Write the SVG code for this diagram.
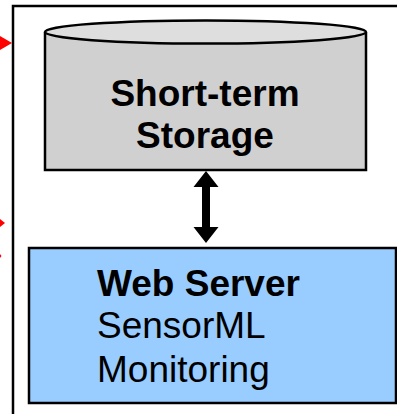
<svg xmlns="http://www.w3.org/2000/svg" width="397" height="414" viewBox="0 0 397 414">
  <style>
    .outline { stroke: #000; stroke-width: 2.5; }
    .bold { font-family: "Liberation Sans", Arial, sans-serif; font-weight: bold; font-size: 37px; fill: #000; }
    .plain { font-family: "Liberation Sans", Arial, sans-serif; font-size: 37px; fill: #000; }
    .red { fill: #ff0000; }
  </style>
  <rect width="397" height="414" fill="#fff"/>

  <!-- enclosing frame -->
  <rect id="frame" x="13" y="6" width="420" height="440" fill="none" class="outline"/>

  <!-- incoming arrowheads at the left edge -->
  <g id="incoming">
    <polygon class="red" points="0,36 12,43 0,50"/>
    <polygon class="red" points="0,219 5,223 0,227"/>
    <polygon class="red" points="0,254 1.5,256 0,258"/>
  </g>

  <!-- storage cylinder -->
  <g id="storage">
    <path d="M45,32 L45,170 L366,170 L366,32" fill="#d0d0d0" class="outline"/>
    <ellipse cx="205.5" cy="32" rx="160.5" ry="11.5" fill="#dedede" class="outline"/>
    <text class="bold" x="205" y="106" text-anchor="middle">Short-term</text>
    <text class="bold" x="205" y="148" text-anchor="middle">Storage</text>
  </g>

  <!-- web server box -->
  <g id="webserver">
    <rect x="29" y="248" width="367" height="155" fill="#99ccff" class="outline"/>
    <text class="bold" x="97" y="296">Web Server</text>
    <text class="plain" x="97" y="338">SensorML</text>
    <text class="plain" x="97" y="382">Monitoring</text>
  </g>

  <!-- bidirectional link between storage and server -->
  <g id="connectors">
    <polygon fill="#000" points="206,171 218.5,187 210,187 210,227 218.5,227 206,243 193.5,227 202,227 202,187 193.5,187"/>
  </g>
</svg>
